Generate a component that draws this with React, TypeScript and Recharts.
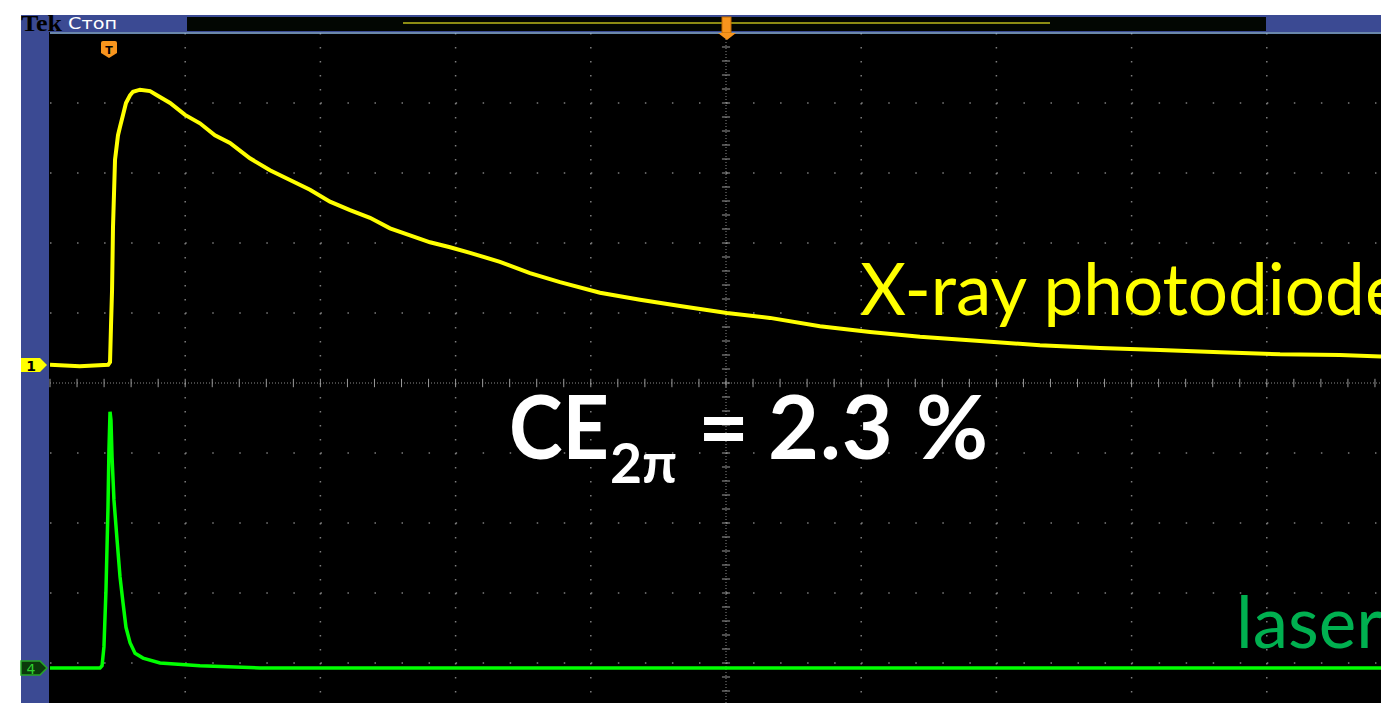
import React from 'react';
import { LineChart, Line, XAxis, YAxis, ReferenceLine } from 'recharts';

// time in screen divisions (0 = left edge of graticule, 10 = right edge)
// level in divisions (0 = bottom edge, 10 = top edge, 5 = centre line)
const xrayTime = [
  0, 0.22, 0.43, 0.444, 0.451, 0.459, 0.466, 0.481, 0.503, 0.518, 0.54, 0.562, 0.592, 0.614,
  0.666, 0.74, 0.791, 0.888, 0.999, 1.109, 1.22, 1.331, 1.479, 1.627, 1.775, 1.923, 2.071,
  2.219, 2.367, 2.515, 2.663, 2.811, 2.959, 3.107, 3.328, 3.55, 3.772, 4.068, 4.364, 4.66,
  5.007, 5.325, 5.695, 6.065, 6.435, 6.879, 7.322, 7.766, 8.21, 8.654, 9.098, 9.541, 10,
];
const xrayLevel = [
  5.26, 5.24, 5.26, 5.3, 5.8, 6.33, 7.23, 8.19, 8.54, 8.66, 8.83, 9.0, 9.11, 9.16,
  9.19, 9.17, 9.11, 9.0, 8.83, 8.71, 8.54, 8.43, 8.21, 8.04, 7.9, 7.76, 7.59,
  7.47, 7.36, 7.21, 7.11, 7.01, 6.94, 6.86, 6.73, 6.57, 6.44, 6.29, 6.19, 6.1,
  6.0, 5.93, 5.81, 5.73, 5.66, 5.6, 5.54, 5.5, 5.47, 5.44, 5.41, 5.4, 5.37,
];

const laserTime = [
  0, 0.37, 0.385, 0.399, 0.414, 0.429, 0.436, 0.444, 0.451, 0.459, 0.473, 0.496, 0.518,
  0.54, 0.562, 0.592, 0.629, 0.688, 0.814, 1.109, 1.553, 10,
];
const laserLevel = [
  0.93, 0.93, 0.96, 1.23, 2.04, 3.23, 4.04, 4.59, 4.47, 3.94, 3.33, 2.76, 2.23,
  1.86, 1.51, 1.29, 1.14, 1.07, 1.0, 0.96, 0.93, 0.93,
];

const majorDivs = [1, 2, 3, 4, 6, 7, 8, 9];
const minorTicks = Array.from({ length: 51 }, (_, i) => Math.round(i * 2) / 10);

const xrayData = xrayTime.map((t, i) => ({ t, v: xrayLevel[i] }));
const laserData = laserTime.map((t, i) => ({ t, v: laserLevel[i] }));

const GRID = '#7c7c7c';
const FRAME = '#3b4a93';

export default function App() {
  return (
    <div style={{ position: 'absolute', left: 0, top: 0, width: 1381, height: 703, overflow: 'hidden', background: '#fff' }}>
      {/* scope frame */}
      <div style={{ position: 'absolute', left: 21, top: 15, width: 1360, height: 688, background: FRAME }} />
      <div style={{ position: 'absolute', left: 187, top: 17, width: 1079, height: 14, background: '#020602' }} />
      <div style={{ position: 'absolute', left: 403, top: 22, width: 647, height: 2, background: '#8c8c14' }} />
      <div style={{ position: 'absolute', left: 49, top: 32, width: 1332, height: 671, background: '#000' }} />

      <div style={{ position: 'absolute', left: 0, top: 0 }}>
        <LineChart width={1420} height={760} margin={{ top: 33, left: 50, right: 18, bottom: 27 }}>
          <XAxis
            dataKey="t"
            type="number"
            domain={[0, 10]}
            ticks={minorTicks}
            orientation="top"
            mirror
            tick={false}
            tickSize={4}
            axisLine={{ stroke: '#8eb4e3', strokeWidth: 1.5 }}
            tickLine={{ stroke: '#9a9a9a' }}
            allowDataOverflow
          />
          <YAxis
            dataKey="v"
            type="number"
            domain={[0, 10]}
            ticks={minorTicks}
            mirror
            width={0}
            tick={false}
            tickSize={3}
            axisLine={{ stroke: '#8eb4e3', strokeWidth: 1.5 }}
            tickLine={{ stroke: '#9a9a9a' }}
            allowDataOverflow
          />
          {majorDivs.map((d) => (
            <ReferenceLine key={`vx${d}`} x={d} stroke={GRID} strokeWidth={1.5} strokeDasharray="1.5 12.5" />
          ))}
          {majorDivs.map((d) => (
            <ReferenceLine key={`hy${d}`} y={d} stroke={GRID} strokeWidth={1.5} strokeDasharray="1.5 25.54" />
          ))}
          <ReferenceLine x={5} stroke="#8a8a8a" strokeDasharray="1 2" />
          <ReferenceLine y={5} stroke="#8a8a8a" strokeDasharray="1 2" />
          {minorTicks.map((m) => (
            <ReferenceLine
              key={`cx${m}`}
              segment={[{ x: m, y: 4.94 }, { x: m, y: 5.06 }]}
              stroke="#9a9a9a"
            />
          ))}
          {minorTicks.map((m) => (
            <ReferenceLine
              key={`cy${m}`}
              segment={[{ x: 4.97, y: m }, { x: 5.03, y: m }]}
              stroke="#9a9a9a"
            />
          ))}
          <Line
            data={laserData}
            dataKey="v"
            type="linear"
            stroke="#00ff00"
            strokeWidth={3.5}
            dot={false}
            isAnimationActive={false}
          />
          <Line
            data={xrayData}
            dataKey="v"
            type="linear"
            stroke="#ffff00"
            strokeWidth={4}
            dot={false}
            isAnimationActive={false}
          />
        </LineChart>
      </div>

      <svg width={1381} height={703} style={{ position: 'absolute', left: 0, top: 0, pointerEvents: 'none' }}>
        <text x={21} y={31} fontFamily="Liberation Serif" fontWeight={700} fontSize={23} textLength={41} lengthAdjust="spacingAndGlyphs" fill="#000">Tek</text>
        <text x={68} y={29} fontFamily="DejaVu Sans" fontSize={15} textLength={49} lengthAdjust="spacingAndGlyphs" fill="#fff">Стоп</text>

        {/* trigger markers */}
        <path d="M101 43 Q101 41 103 41 L115 41 Q117 41 117 43 L117 53 L109 58 L101 53 Z" fill="#f7941d" />
        <text x={109} y={54} textAnchor="middle" fontFamily="DejaVu Sans" fontWeight={700} fontSize={11} fill="#000">T</text>
        <rect x={722} y={17} width={9} height={16} fill="#f7941d" stroke="#c06a00" />
        <path d="M718 33 L736 33 L727 40 Z" fill="#f7941d" />

        {/* channel markers */}
        <path d="M21 358 L40 358 L47 365 L40 372 L21 372 Z" fill="#ffff00" />
        <text x={31} y={371} textAnchor="middle" fontFamily="DejaVu Sans" fontWeight={700} fontSize={14} fill="#000">1</text>
        <path d="M21 661 L40 661 L47 668 L40 675 L21 675 Z" fill="#0b3a0b" stroke="#26a626" strokeWidth={1.5} />
        <text x={31} y={674} textAnchor="middle" fontFamily="DejaVu Sans" fontSize={14} fill="#2fd12f">4</text>

        <text x={860} y={315} fontFamily="Lato" fontSize={71} fill="#ffff00">X-ray photodiode</text>
        <text x={1236} y={648} fontFamily="Lato" fontSize={71} fill="#00b050">laser</text>

        <g fontFamily="Lato" fontWeight={700} fill="#fff">
          <text x={509} y={459} fontSize={88} textLength={100} lengthAdjust="spacingAndGlyphs">CE</text>
          <text x={610} y={483} fontSize={56} textLength={67} lengthAdjust="spacingAndGlyphs">2π</text>
          <text x={698} y={459} fontSize={88}>=</text>
          <text x={768} y={459} fontSize={88} textLength={220} lengthAdjust="spacing">2.3 %</text>
        </g>
      </svg>
    </div>
  );
}
